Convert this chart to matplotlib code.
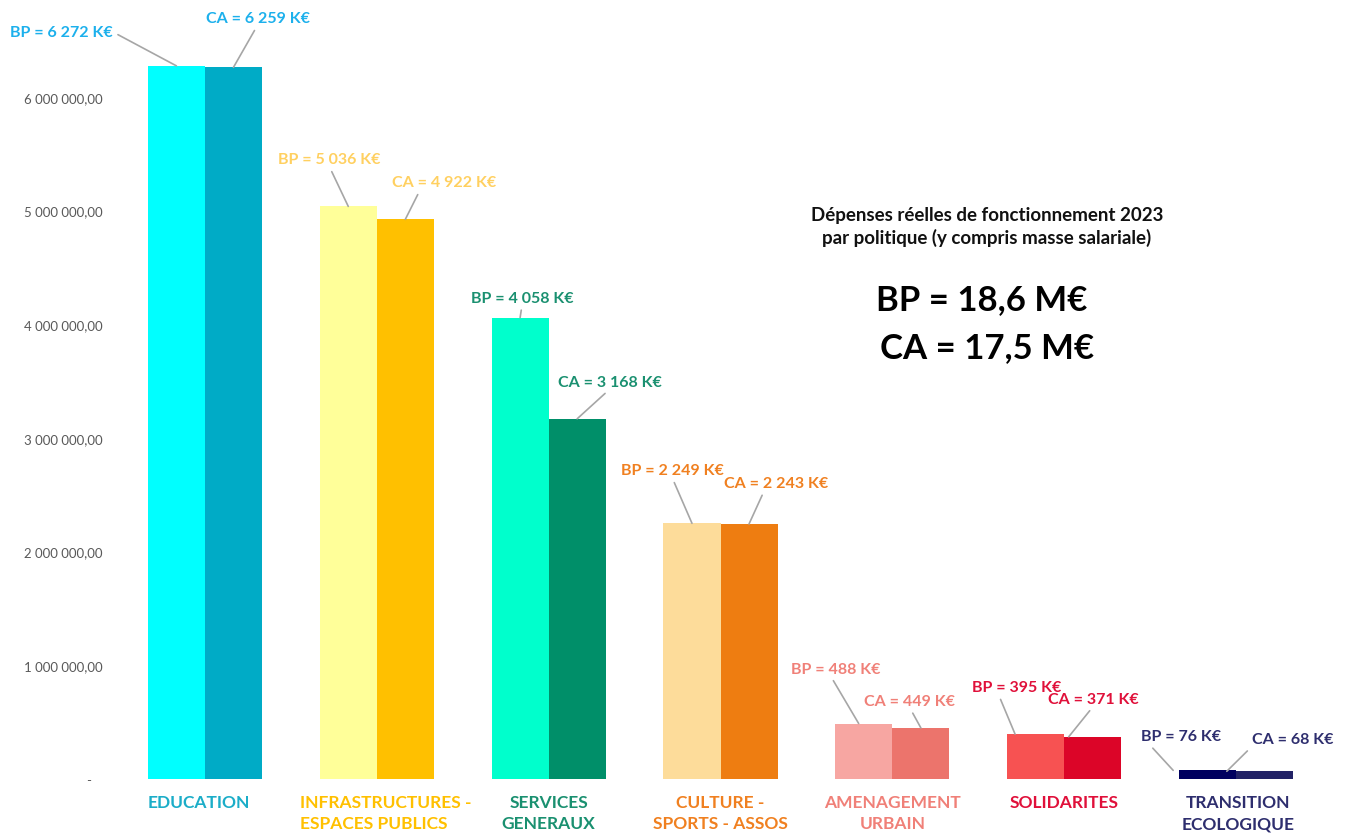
import matplotlib
matplotlib.use("Agg")
import matplotlib.pyplot as plt
import matplotlib.transforms as mtransforms
from matplotlib.ticker import FixedLocator

plt.rcParams['font.family'] = ['Lato', 'DejaVu Sans']

# ---------------- data ----------------
categories = ["EDUCATION", "INFRASTRUCTURES -\nESPACES PUBLICS", "SERVICES\nGENERAUX",
              "CULTURE -\nSPORTS - ASSOS", "AMENAGEMENT\nURBAIN", "SOLIDARITES",
              "TRANSITION\nECOLOGIQUE"]
bp_keur = [6272, 5036, 4058, 2249, 488, 395, 76]
ca_keur = [6259, 4922, 3168, 2243, 449, 371, 68]
ytick_values = [0, 1000000, 2000000, 3000000, 4000000, 5000000, 6000000]
ytick_labels = ["-   ", "1 000 000,00", "2 000 000,00", "3 000 000,00", "4 000 000,00",
                "5 000 000,00", "6 000 000,00"]
title_lines = "Dépenses réelles de fonctionnement 2023\npar politique (y compris masse salariale)"
total_bp = "BP = 18,6 M€"
total_ca = "CA = 17,5 M€"

# ---------------- styles ----------------
bp_colors = ["#00FFFF", "#FFFF99", "#00FFCC", "#FDDC9A", "#F7A6A2", "#F75252", "#00005F"]
ca_colors = ["#00ABC6", "#FFC000", "#008F69", "#EE7D11", "#EC746C", "#DC0528", "#222266"]
label_colors = ["#1CB0EC", "#FFD060", "#1A9070", "#F08020", "#F08078", "#E0103A", "#2E2E6E"]
cat_colors = ["#1BADC8", "#FFC000", "#1A9070", "#F08020", "#F08078", "#E0103A", "#2E2E6E"]
cat_label_shift_px = [-6, 9, 0, 0, 0, 0, 2]
cat_label_align = ['center', 'left', 'center', 'center', 'center', 'center', 'center']

# annotation layout: (text offset px from anchor, relpos on text, anchor x shift in data units)
bp_layout = [((-115, 34), (1.0, 0.5), 0.0), ((-19, 47), (0.5, 0.0), 0.0),
             ((2, 20), (0.5, 0.0), 0.0), ((-20, 53), (0.5, 0.0), 0.0),
             ((-23, 55), (0.44, 0.0), -0.03), ((2, 47), (0.29, 0.0), -0.12),
             ((8, 34), (0.09, 0.0), -0.20)]
ca_layout = [((24, 49), (0.5, 0.0), 0.0), ((39, 37), (0.27, 0.0), 0.0),
             ((33, 37), (0.5, 0.0), 0.0), ((27, 41), (0.39, 0.0), 0.0),
             ((-11, 27), (0.5, 0.0), 0.0), ((25, 38), (0.5, 0.0), -0.14),
             ((66, 32), (0.0, 0.0), -0.22)]

fig = plt.figure(figsize=(13.47, 8.37), dpi=100)
ax = fig.add_axes([119 / 1347, 57 / 837, 1203 / 1347, 780 / 837])

x = list(range(len(categories)))
w = 0.332
bp_vals = [v * 1000 for v in bp_keur]
ca_vals = [v * 1000 for v in ca_keur]
bp_x = [i - w / 2 for i in x]
ca_x = [i + w / 2 for i in x]
ax.bar(bp_x, bp_vals, width=w, color=bp_colors, linewidth=0)
ax.bar(ca_x, ca_vals, width=w, color=ca_colors, linewidth=0)

ax.set_xlim(-0.5, len(categories) - 0.5)
ax.set_ylim(0, 6.86e6)

for spine in ax.spines.values():
    spine.set_visible(False)

ax.yaxis.set_major_locator(FixedLocator(ytick_values))
ax.set_yticklabels(ytick_labels)
ax.tick_params(axis='y', length=0, pad=12, labelsize=9.5, labelcolor="#595959")

ax.set_xticks(x)
ax.set_xticklabels(categories, fontweight='bold', fontsize=12.5, linespacing=1.45)
ax.tick_params(axis='x', length=0, pad=10.5)
for lab, c, sh, al in zip(ax.get_xticklabels(), cat_colors, cat_label_shift_px, cat_label_align):
    lab.set_color(c)
    lab.set_multialignment(al)
    if sh:
        lab.set_transform(lab.get_transform() +
                          mtransforms.ScaledTranslation(sh / 100, 0, fig.dpi_scale_trans))

line_color = "#A6A6A6"


def annotate(xs, vals, keur, prefix, layout):
    for i, (xx, v, k, lay) in enumerate(zip(xs, vals, keur, layout)):
        off, rel, shift = lay
        s = f"{k:,}".replace(",", " ")
        ax.annotate(f"{prefix} = {s} K€", xy=(xx + shift, v), xytext=off,
                    textcoords='offset pixels', ha='center', va='center',
                    fontsize=11.5, fontweight='bold', color=label_colors[i],
                    arrowprops=dict(arrowstyle='-', color=line_color, lw=1.2,
                                    shrinkA=2, shrinkB=0, relpos=rel))


annotate(bp_x, bp_vals, bp_keur, "BP", bp_layout)
annotate(ca_x, ca_vals, ca_keur, "CA", ca_layout)

fig.text(987 / 1347, 1 - 227 / 837, title_lines, ha='center', va='center',
         fontsize=13.5, fontweight='bold', color="#111111", linespacing=1.35)
fig.text(982 / 1347, 1 - 300 / 837, total_bp, ha='center', va='center',
         fontsize=25, fontweight='bold', color="black")
fig.text(987 / 1347, 1 - 348 / 837, total_ca, ha='center', va='center',
         fontsize=25, fontweight='bold', color="black")

fig.savefig("out.png", dpi=100)
